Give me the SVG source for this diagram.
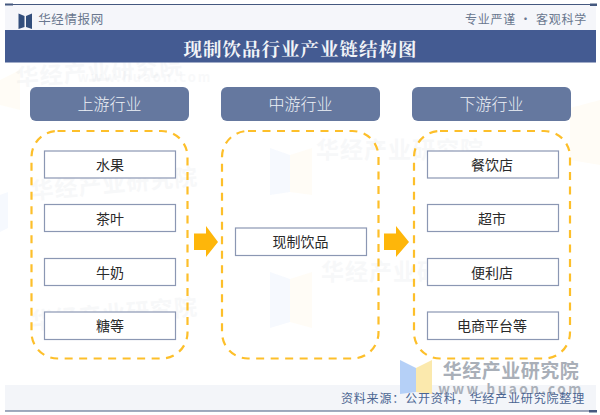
<svg xmlns="http://www.w3.org/2000/svg" width="600" height="415" viewBox="0 0 600 415">
<defs>
<style>
text{font-family:"Noto Sans CJK SC","Liberation Sans",sans-serif;text-anchor:middle}
.serif{font-family:"Noto Serif CJK SC","Noto Sans CJK SC",serif;font-weight:700}
.hd{fill:#65789f;}
.hdt{fill:#eef1f6;font-size:16px;font-weight:300}
.dash{fill:none;stroke:#fdbf2a;stroke-width:2.2;stroke-dasharray:8 6.5}
.box{fill:#fff;stroke:#8b97b3;stroke-width:1.2}
.bt{fill:#2a2a2a;font-size:14px}
.arrow{fill:#feb60a}
.wm{fill:#5a6b85;opacity:.045;font-size:23px;font-weight:700;letter-spacing:1px}
.wu{fill:#5a6b85;opacity:.035;font-size:13px;font-weight:700;letter-spacing:2px}
.lb{fill:#2f6fe0;opacity:.045}
.ly{fill:#f9c531;opacity:.045}
</style>
</defs>
<rect width="600" height="415" fill="#fff"/>
<g id="watermarks">
<text class="wm" x="100" y="80" transform="rotate(-4 100 80)">华经产业研究院</text>
<text class="wu" x="145" y="82">www.huaon.com</text>
<text class="wm" x="400" y="158">华经产业研究院</text>
<text class="wm" x="115" y="192" transform="rotate(-5 115 192)">华经产业研究院</text>
<text class="wm" x="405" y="280">华经产业研究院</text>
<text class="wm" x="115" y="322" transform="rotate(-5 115 322)">华经产业研究院</text>
<polygon class="lb" points="270,148 290,155 290,192 270,195"/>
<polygon class="ly" points="290,155 312,148 312,195 290,192"/>
<polygon class="lb" points="270,272 290,279 290,322 270,328"/>
<polygon class="ly" points="290,279 312,272 312,328 290,322"/>
<polygon class="lb" points="0,195 8,192 8,228 0,232"/>
<polygon class="ly" points="570,108 600,100 600,165 570,160"/>
<polygon class="ly" points="0,80 20,70 20,110 0,105"/>
</g>
<g id="header">
<rect x="5" y="5" width="591" height="26" fill="#f5f6fa"/>
<rect x="5" y="30" width="591" height="32.500" fill="#445b92"/>
<line x1="5" y1="4.500" x2="596" y2="4.500" stroke="#44587f" stroke-width="1"/>
<rect x="5" y="3.500" width="8" height="2" fill="#44587f"/>
<rect x="590" y="3.500" width="7" height="2.500" fill="#44587f"/>
<path d="M18.500 13.500l6 2.500v11l-6 2z M32 13.500l-6 2.500v11l6 2z" fill="#324e7c"/>
<text x="71" y="24" style="font-size:12.500px;letter-spacing:.6px" fill="#6a788f">华经情报网</text>
<text x="526" y="24" style="font-size:12px;letter-spacing:.8px" fill="#6a788f">专业严谨 • 客观科学</text>
<text class="serif" x="300.500" y="56" style="font-size:18.500px;letter-spacing:1px" fill="#f2f4f8">现制饮品行业产业链结构图</text>
</g>
<g id="head-up"><rect class="hd" x="30" y="87" width="159" height="34" rx="6"/><text class="hdt" x="109.500" y="110">上游行业</text></g>
<g id="head-mid"><rect class="hd" x="221" y="87" width="159" height="34" rx="6"/><text class="hdt" x="300.500" y="110">中游行业</text></g>
<g id="head-down"><rect class="hd" x="412" y="87" width="159" height="34" rx="6"/><text class="hdt" x="491.500" y="110">下游行业</text></g>
<g id="group-up"><rect class="dash" x="31.500" y="131" width="156" height="227.500" rx="26"/></g>
<g id="group-mid"><rect class="dash" x="222" y="131" width="156.500" height="227.500" rx="26"/></g>
<g id="group-down"><rect class="dash" x="414" y="131" width="156" height="227.500" rx="26"/></g>
<g id="n-fruit"><rect class="box" x="44.500" y="151" width="131" height="27"/><text class="bt" x="110" y="170">水果</text></g>
<g id="n-tea"><rect class="box" x="44.500" y="204.500" width="131" height="27"/><text class="bt" x="110" y="224">茶叶</text></g>
<g id="n-milk"><rect class="box" x="44.500" y="258.500" width="131" height="27"/><text class="bt" x="110" y="278">牛奶</text></g>
<g id="n-sugar"><rect class="box" x="44.500" y="312" width="131" height="27.500"/><text class="bt" x="110" y="331">糖等</text></g>
<g id="n-drink"><rect class="box" x="235.500" y="228" width="131" height="27.500"/><text class="bt" x="300.500" y="247">现制饮品</text></g>
<g id="n-rest"><rect class="box" x="427.500" y="151" width="131" height="27"/><text class="bt" x="492" y="170">餐饮店</text></g>
<g id="n-super"><rect class="box" x="427.500" y="204.500" width="131" height="27"/><text class="bt" x="492" y="224">超市</text></g>
<g id="n-conv"><rect class="box" x="427.500" y="258.500" width="131" height="27"/><text class="bt" x="492" y="278">便利店</text></g>
<g id="n-online"><rect class="box" x="427.500" y="312" width="131" height="27.500"/><text class="bt" x="492" y="331">电商平台等</text></g>
<g id="connectors">
<polygon class="arrow" points="194,233.500 206,233.500 206,226 218,242 206,257 206,250 194,250"/>
<polygon class="arrow" points="384,233.500 396,233.500 396,226 409,242 396,257 396,250 384,250"/>
</g>
<g id="footer">
<rect x="5" y="385" width="591" height="26" fill="#f3f5f9"/>
<polygon points="400,360 416,368 416,392 400,394" fill="#b5d0f7"/>
<polygon points="416,368 432,360 432,394 416,392" fill="#fbe9ad"/>
<text x="511" y="378" style="font-size:19px;font-weight:700;letter-spacing:.5px" fill="#a9afb8">华经产业研究院</text>
<text x="511" y="394" style="font-size:13.500px;font-weight:700;letter-spacing:2.500px" fill="#aab0b9">www.huaon.com</text>
<text x="463" y="403" style="font-size:12px;letter-spacing:.85px" fill="#4b6592">资料来源：公开资料，华经产业研究院整理</text>
<line x1="5" y1="411" x2="596" y2="411" stroke="#44587f" stroke-width="1"/>
<rect x="589" y="410" width="8" height="2.500" fill="#44587f"/>
</g>
</svg>
